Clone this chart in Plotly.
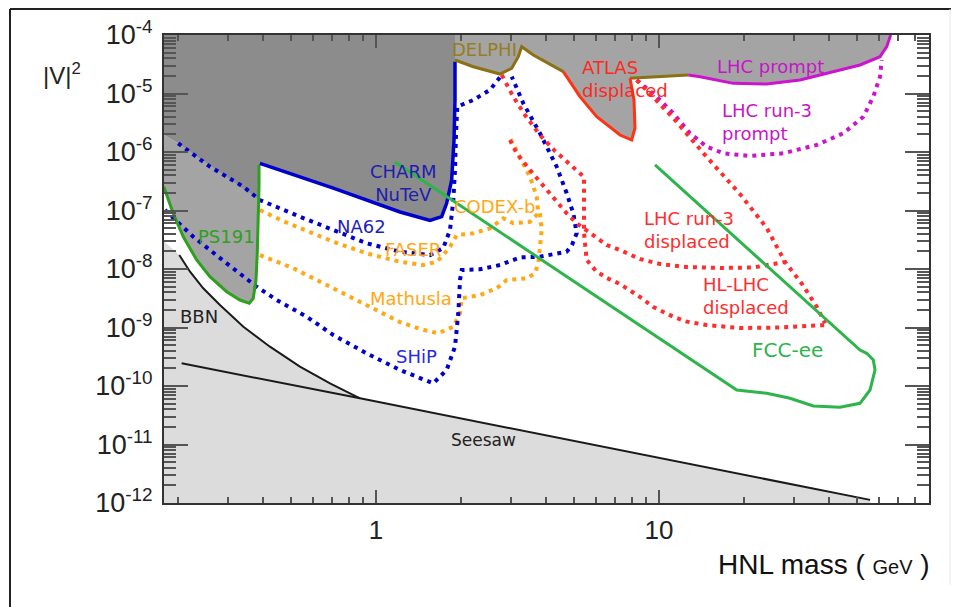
import plotly.graph_objects as go

# ---------------- data: HNL mass (GeV) and |V|^2 ----------------
bbn_mass = [0.2018, 0.2203, 0.2453, 0.281, 0.340, 0.422, 0.5387, 0.688, 0.878]
bbn_v2 = [1.73e-8, 8.99e-9, 4.68e-9, 2.42e-9, 1.03e-9, 4.70e-10, 2.14e-10, 1.11e-10, 6.16e-11]

seesaw_mass = [0.2057, 0.878, 55.7]
seesaw_v2 = [2.44e-10, 6.16e-11, 1.13e-12]

ps191_mass = [0.178, 0.192, 0.2085, 0.2325, 0.259, 0.2968, 0.3306, 0.3566, 0.3684, 0.3767, 0.3807, 0.3838, 0.3861, 0.3861]
ps191_v2 = [2.55e-7, 8.96e-8, 3.56e-8, 1.43e-8, 7.38e-9, 4.09e-9, 2.95e-9, 2.59e-9, 3.16e-9, 6.49e-9, 1.85e-8, 6.88e-8, 2.55e-7, 6.00e-7]

charm_mass = [0.389, 0.7065, 1.216, 1.552, 1.707, 1.777, 1.851, 1.887, 1.902, 1.902]
charm_v2 = [6.41e-7, 2.42e-7, 9.43e-8, 6.75e-8, 7.83e-8, 1.33e-7, 3.32e-7, 1.60e-6, 7.74e-6, 3.50e-5]

delphi_mass = [1.902, 2.207, 2.744, 3.017, 3.183, 3.272, 3.595, 4.590]
delphi_v2 = [3.74e-5, 2.87e-5, 2.15e-5, 2.70e-5, 4.26e-5, 6.31e-5, 4.55e-5, 2.36e-5]

atlas_mass = [4.590, 5.257, 6.026, 7.282, 8.008, 8.226, 8.16, 7.898]
atlas_v2 = [2.36e-5, 8.82e-6, 4.01e-6, 1.95e-6, 1.60e-6, 2.57e-6, 7.74e-6, 1.82e-5]

delphi2_mass = [7.898, 12.69]
delphi2_v2 = [1.82e-5, 2.07e-5]

lhc_prompt_mass = [12.69, 13.96, 18.30, 24.03, 31.50, 41.29, 51.31, 60.39, 63.78, 65.88]
lhc_prompt_v2 = [2.07e-5, 1.94e-5, 1.49e-5, 1.45e-5, 1.70e-5, 2.36e-5, 3.07e-5, 4.26e-5, 6.31e-5, 1.0e-4]

na62_mass = [0.200, 0.259, 0.340, 0.389, 0.5387, 0.7065, 0.927, 1.216, 1.552, 1.729, 1.826, 1.876, 1.902, 1.918, 1.938, 2.207, 2.528, 2.782]
na62_v2 = [1.41e-6, 5.61e-7, 2.55e-7, 1.51e-7, 7.83e-8, 4.64e-8, 2.75e-8, 1.98e-8, 1.73e-8, 2.29e-8, 4.64e-8, 1.51e-7, 4.93e-7, 2.09e-6, 5.95e-6, 7.74e-6, 1.15e-5, 2.07e-5]

ship_mass = [0.1796, 0.2262, 0.2968, 0.3788, 0.4457, 0.569, 0.7065, 0.927, 1.216, 1.594, 1.777, 1.902, 1.954, 1.981, 2.009,
             2.331, 2.744, 3.228, 3.797, 4.719, 4.926, 5.118, 4.979, 4.719, 4.350, 3.797, 3.315, 3.017]
ship_v2 = [1.02e-7, 3.56e-8, 1.25e-8, 4.98e-9, 2.95e-9, 1.53e-9, 7.44e-10, 3.62e-10, 1.88e-10, 1.11e-10, 1.88e-10, 4.70e-10, 1.75e-9, 6.49e-9, 9.61e-9,
           9.88e-9, 1.17e-8, 1.58e-8, 1.62e-8, 1.98e-8, 2.57e-8, 4.08e-8, 8.96e-8, 1.97e-7, 5.61e-7, 2.09e-6, 6.80e-6, 1.94e-5]

faser_mass = [0.389, 0.469, 0.5387, 0.7065, 0.927, 1.216, 1.469, 1.639, 1.729, 1.826, 1.929, 2.207, 2.528, 2.818, 3.056, 3.500, 3.745, 3.696, 3.500, 3.228, 2.935]
faser_v2 = [1.02e-7, 6.61e-8, 5.02e-8, 2.93e-8, 1.85e-8, 1.33e-8, 1.17e-8, 1.33e-8, 1.73e-8, 2.40e-8, 3.81e-8, 4.08e-8, 4.96e-8, 7.35e-8, 6.04e-8, 6.43e-8, 8.96e-8, 1.72e-7, 3.78e-7, 8.31e-7, 1.95e-6]

mathusla_mass = [0.389, 0.5103, 0.6696, 0.878, 1.216, 1.431, 1.660, 1.876, 1.981, 2.009, 2.331, 2.671, 2.897, 3.408, 3.645, 3.745, 3.797, 3.850, 3.797]
mathusla_v2 = [1.73e-8, 1.03e-8, 5.33e-9, 2.76e-9, 1.24e-9, 9.43e-10, 7.96e-10, 1.03e-9, 1.75e-9, 3.16e-9, 3.59e-9, 4.68e-9, 6.49e-9, 6.93e-9, 8.44e-9, 1.25e-8, 2.40e-8, 4.64e-8, 8.96e-8]

run3_prompt_mass = [8.340, 9.815, 11.23, 12.87, 14.75, 16.88, 20.97, 27.49, 36.08, 44.80, 52.72, 57.18, 60.39, 61.23]
run3_prompt_v2 = [1.70e-5, 8.82e-6, 4.59e-6, 2.09e-6, 1.23e-6, 9.50e-7, 8.54e-7, 9.50e-7, 1.32e-6, 2.09e-6, 4.01e-6, 8.82e-6, 1.94e-5, 3.74e-5]

displaced_edge_mass = [8.340, 11.23, 14.75, 19.33, 24.03, 27.88, 32.02, 36.08, 38.61]
displaced_edge_v2 = [1.70e-5, 3.81e-6, 8.21e-7, 1.91e-7, 5.02e-8, 1.32e-8, 5.54e-9, 2.27e-9, 1.18e-9]

run3_displaced_mass = [2.975, 3.142, 3.500, 4.010, 4.719, 5.118, 5.705, 6.535, 7.282, 8.568, 10.08, 12.53, 16.43, 21.54, 27.88]
run3_displaced_v2 = [1.60e-6, 9.50e-7, 4.93e-7, 2.24e-7, 8.96e-8, 6.04e-8, 4.12e-8, 2.57e-8, 2.11e-8, 1.48e-8, 1.22e-8, 1.08e-8, 1.04e-8, 1.06e-8, 1.32e-8]

hllhc_mass = [2.782, 3.056, 3.361, 3.797, 4.290, 4.848, 5.433, 5.433, 5.433, 5.552, 5.99, 6.535, 7.282, 8.568, 9.548, 11.23, 12.53, 14.75, 19.33, 26.77, 38.61]
hllhc_v2 = [2.07e-5, 8.82e-6, 4.29e-6, 1.95e-6, 1.04e-6, 6.23e-7, 3.74e-7, 1.51e-7, 4.12e-8, 1.43e-8, 9.24e-9, 7.02e-9, 5.54e-9, 3.32e-9, 2.24e-9, 1.53e-9, 1.26e-9, 1.10e-9, 9.80e-10, 1.00e-9, 1.10e-9]

fcc_mass = [1.167, 18.82, 24.03, 29.03, 35.10, 43.62, 51.31, 55.67, 57.98, 57.18, 54.19, 51.31, 9.681]
fcc_v2 = [6.75e-7, 8.54e-11, 7.50e-11, 6.16e-11, 4.55e-11, 4.32e-11, 5.06e-11, 8.54e-11, 1.88e-10, 2.78e-10, 3.62e-10, 4.12e-10, 6.00e-7]

x_tick_vals = [1, 10]
x_tick_text = ["1", "10"]
x_minor_vals = [0.2, 0.3, 0.4, 0.5, 0.6, 0.7, 0.8, 0.9, 2, 3, 4, 5, 6, 7, 8, 9, 20, 30, 40, 50, 60, 70, 80]
y_exponents = [-12, -11, -10, -9, -8, -7, -6, -5, -4]
y_tick_vals = [10.0 ** e for e in y_exponents]
y_tick_text = ["10<sup>%d</sup>" % e for e in y_exponents]
y_minor_vals = [k * 10.0 ** e for e in y_exponents[:-1] for k in range(2, 10)]

X_MIN = 0.178
Y_MIN, Y_MAX = 1e-12, 1e-4

# ---------------- layout geometry (page offset of 8 px from body margin) ----------------
OFF = 8
W, H = 951, 599
ML, MR, MT, MB = 156, 30, 27, 104
PW, PH = W - ML - MR, H - MT - MB


def pxp(x):
    return (x - OFF - ML) / PW


def pyp(y):
    return (H - MB - (y - OFF)) / PH


fig = go.Figure()


def fill(xs, ys, color):
    fig.add_trace(go.Scatter(x=xs, y=ys, mode="lines", fill="toself", fillcolor=color,
                             line=dict(width=0), hoverinfo="skip", showlegend=False))


def line(xs, ys, color, width=3.0, dash="solid"):
    fig.add_trace(go.Scatter(x=xs, y=ys, mode="lines",
                             line=dict(color=color, width=width, dash=dash),
                             hoverinfo="skip", showlegend=False))


LIGHT = "rgb(220,220,220)"
MEDIUM = "rgb(164,164,164)"
DARK = "rgb(140,140,140)"
BLUE = "rgb(0,0,205)"
ORANGE = "rgb(255,168,20)"
RED = "rgb(255,45,45)"
MAGENTA = "rgb(205,20,205)"
GREEN = "rgb(45,180,75)"
PSGREEN = "rgb(45,160,30)"
OLIVE = "rgb(140,112,20)"
DOT = "4px,5px"

# filled regions
fill([X_MIN] + bbn_mass + [seesaw_mass[-1], seesaw_mass[-1], X_MIN],
     [3.0e-8] + bbn_v2 + [seesaw_v2[-1], Y_MIN, Y_MIN], LIGHT)
fill([X_MIN, na62_mass[0]] + ps191_mass[::-1],
     [1.95e-6, na62_v2[0]] + ps191_v2[::-1], MEDIUM)
fill([X_MIN, charm_mass[-1]] + charm_mass[::-1] + [charm_mass[0], na62_mass[0], X_MIN],
     [Y_MAX, Y_MAX] + charm_v2[::-1] + [na62_v2[3], na62_v2[0], 1.95e-6], DARK)
fill([delphi_mass[0]] + delphi_mass + atlas_mass + delphi2_mass + lhc_prompt_mass,
     [Y_MAX] + delphi_v2 + atlas_v2 + delphi2_v2 + lhc_prompt_v2, MEDIUM)

# theory lines
line(bbn_mass, bbn_v2, "#1a1a1a", 2)
line(seesaw_mass, seesaw_v2, "#1a1a1a", 2)

# dotted projections
line(mathusla_mass, mathusla_v2, ORANGE, 4, DOT)
line(faser_mass, faser_v2, ORANGE, 4, DOT)
line(ship_mass, ship_v2, BLUE, 4, DOT)
line(na62_mass, na62_v2, BLUE, 4, DOT)
line(run3_displaced_mass, run3_displaced_v2, RED, 4, DOT)
line(hllhc_mass, hllhc_v2, RED, 4, DOT)
line(run3_prompt_mass, run3_prompt_v2, MAGENTA, 4, DOT)
line(displaced_edge_mass, displaced_edge_v2, RED, 4, DOT)

# solid exclusion boundaries
line(ps191_mass, ps191_v2, PSGREEN, 3)
line(charm_mass, charm_v2, BLUE, 3.5)
line(delphi_mass, delphi_v2, OLIVE, 3)
line(delphi2_mass, delphi2_v2, OLIVE, 3)
line(atlas_mass, atlas_v2, "rgb(255,50,20)", 3)
line(lhc_prompt_mass, lhc_prompt_v2, MAGENTA, 3)
line(fcc_mass, fcc_v2, GREEN, 3)

# ---------------- labels ----------------
LF = "DejaVu Sans"
labels = [
    (484, 49, "DELPHI", "rgb(150,125,30)", "center", 18),
    (580, 79, "ATLAS<br>displaced", "rgb(255,40,30)", "left", 18),
    (770, 67, "LHC prompt", "rgb(200,20,200)", "center", 18),
    (720, 122, "LHC run-3<br>prompt", "rgb(200,20,200)", "left", 18),
    (403, 183, "CHARM<br>NuTeV", "rgb(30,30,175)", "center", 18),
    (361, 226, "NA62", "rgb(30,30,185)", "center", 18),
    (413, 249, "FASER", ORANGE, "center", 18),
    (494, 206, "CODEX-b", ORANGE, "center", 18),
    (411, 298, "Mathusla", ORANGE, "center", 18),
    (416, 356, "SHiP", "rgb(40,40,235)", "center", 18),
    (226, 236, "PS191", PSGREEN, "center", 18),
    (199, 316, "BBN", "#222222", "center", 18),
    (483, 440, "Seesaw", "#222222", "center", 17),
    (642, 230, "LHC run-3<br>displaced", "rgb(255,45,45)", "left", 18),
    (701, 296, "HL-LHC<br>displaced", "rgb(255,45,45)", "left", 18),
    (787, 350, "FCC-ee", GREEN, "center", 20),
]
for (x, y, t, c, a, s) in labels:
    fig.add_annotation(x=pxp(x), y=pyp(y), xref="paper", yref="paper", text=t, showarrow=False,
                       xanchor=a, yanchor="middle", align=a,
                       font=dict(family=LF, size=s, color=c))

# axis titles
fig.add_annotation(x=pxp(62), y=pyp(74), xref="paper", yref="paper", text="|V|<sup>2</sup>",
                   showarrow=False, xanchor="center", yanchor="middle",
                   font=dict(family="Liberation Sans", size=24, color="#222"))
fig.add_annotation(x=pxp(932), y=pyp(564), xref="paper", yref="paper",
                   text="HNL mass ( <span style='font-size:20px'>GeV</span> )",
                   showarrow=False, xanchor="right", yanchor="middle",
                   font=dict(family="Liberation Sans", size=28, color="#111"))

# page frame lines
fig.add_shape(type="line", xref="paper", yref="paper", x0=pxp(10), x1=pxp(959), y0=pyp(9), y1=pyp(9),
              line=dict(color="#222", width=2))
fig.add_shape(type="line", xref="paper", yref="paper", x0=pxp(10), x1=pxp(10), y0=pyp(9), y1=pyp(607),
              line=dict(color="#222", width=2))
fig.add_shape(type="line", xref="paper", yref="paper", x0=pxp(950), x1=pxp(950), y0=pyp(9), y1=pyp(585),
              line=dict(color="#e8e8e8", width=1))

AX = dict(showline=True, linewidth=2, linecolor="#333", mirror="allticks", ticks="inside",
          tickcolor="#555", showgrid=False, zeroline=False)

fig.update_layout(
    width=W, height=H,
    margin=dict(l=ML, r=MR, t=MT, b=MB, autoexpand=False),
    paper_bgcolor="white", plot_bgcolor="white",
    showlegend=False,
    xaxis=dict(type="log", range=[-0.749, 1.954], tickvals=x_tick_vals, ticktext=x_tick_text,
               ticklen=13, tickwidth=1.5, ticklabelstandoff=3,
               tickfont=dict(family="Liberation Sans", size=26, color="#222"),
               minor=dict(tickvals=x_minor_vals, ticks="inside", ticklen=6, tickcolor="#555", showgrid=False),
               **AX),
    yaxis=dict(type="log", range=[-12, -4], tickvals=y_tick_vals, ticktext=y_tick_text,
               ticklen=24, tickwidth=1.5, ticklabelstandoff=4,
               tickfont=dict(family="Liberation Sans", size=27, color="#222"),
               minor=dict(tickvals=y_minor_vals, ticks="inside", ticklen=12, tickcolor="#555", showgrid=False),
               **AX),
)

fig.write_html("out.html")
